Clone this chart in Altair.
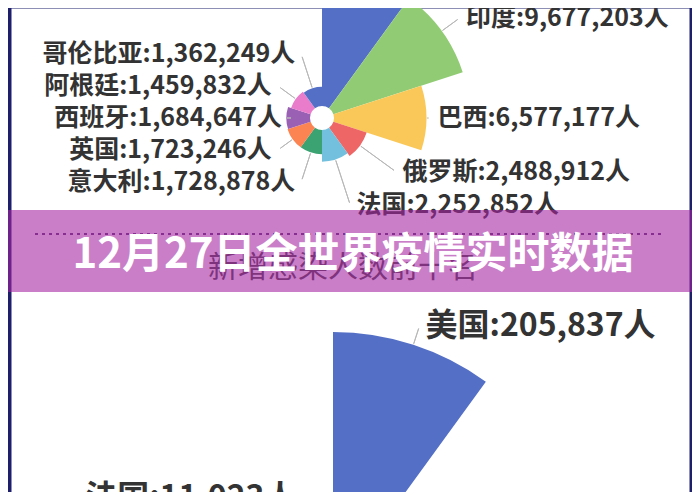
import altair as alt
import pandas as pd

# ---------------- data ----------------
title_text = "12月27日全世界疫情实时数据"
subtitle_text = "新增感染人数前十名"

top_countries = ["美国", "印度", "巴西", "俄罗斯", "法国", "意大利", "英国", "西班牙", "阿根廷", "哥伦比亚"]
top_cases = [19300000, 9677203, 6577177, 2488912, 2252852, 1728878, 1723246, 1684647, 1459832, 1362249]
top_rank = [1, 2, 3, 4, 5, 6, 7, 8, 9, 10]

new_countries = ["美国", "法国"]
new_cases = [205837, 11023]
new_rank = [1, 10]

palette = ["#5470c6", "#91cc75", "#fac858", "#ee6666", "#73c0de",
           "#3ba272", "#fc8452", "#9a60b4", "#ea7ccc", "#5470c6"]

SLOTS = 10
FONT = "Noto Sans CJK SC"
HOLE = 12

theta_scale = alt.Scale(domain=[0, SLOTS], range=[0, 6.283185307])
color_scale = alt.Scale(domain=list(range(1, SLOTS + 1)), range=palette)


def rose(countries, cases, ranks, cx, cy, dom, rmax, font_size,
         right_gap, right_tilt, right_min, left_base, left_tilt):
    """Nightingale rose (equal angles, radius by value) with ECharts-like outside labels."""
    df = pd.DataFrame({"country": countries, "cases": cases, "rank": ranks})
    ppu = (rmax - HOLE) / dom  # pixels per data unit of the radius scale
    r_scale = alt.Scale(type="linear", domain=[0, dom], range=[HOLE, rmax], nice=False, zero=True)
    cosabs = f"abs(cos(datum.mid / {SLOTS} * 2 * PI))"
    right_px = f"max({HOLE} + {ppu} * datum.cases + {right_gap} + {right_tilt} * {cosabs}, {right_min})"
    left_px = f"{left_base} + {left_tilt} * {cosabs}"
    base = alt.Chart(df).transform_calculate(
        start="datum.rank - 1",
        end="datum.rank",
        mid="datum.rank - 0.5",
        mid2="datum.rank - 0.4995",
        label="datum.country + ':' + format(datum.cases, ',') + '人'",
    ).transform_calculate(
        labelpx=f"datum.mid < {SLOTS / 2} ? {right_px} : {left_px}",
    ).transform_calculate(
        labelr=f"(datum.labelpx - {HOLE}) / {ppu}",
    ).transform_calculate(
        linestart="min(datum.cases, datum.labelr)",
    )
    arcs = base.mark_arc(clip=True).encode(
        theta=alt.Theta("start:Q", scale=theta_scale, stack=False),
        theta2="end:Q",
        radius=alt.Radius("cases:Q", scale=r_scale),
        radius2=alt.value(HOLE),
        color=alt.Color("rank:O", scale=color_scale, legend=None),
        x=alt.value(cx), y=alt.value(cy),
    )
    lines = base.mark_arc(filled=False, stroke="#b8b8b8", strokeWidth=1,
                          radiusOffset=-3, radius2Offset=1, clip=True).encode(
        theta=alt.Theta("mid:Q", scale=theta_scale, stack=False),
        theta2="mid2:Q",
        radius=alt.Radius("labelr:Q", scale=r_scale),
        radius2="linestart:Q",
        x=alt.value(cx), y=alt.value(cy),
    )
    txt_common = dict(baseline="middle", font=FONT, fontSize=font_size, fontWeight="bold",
                      color="#333333")
    right = base.transform_filter(f"datum.mid < {SLOTS / 2}").mark_text(
        align="left", dx=6, **txt_common).encode(
        theta=alt.Theta("mid:Q", scale=theta_scale, stack=False),
        radius=alt.Radius("labelr:Q", scale=r_scale),
        text="label:N",
        x=alt.value(cx), y=alt.value(cy),
    )
    left = base.transform_filter(f"datum.mid > {SLOTS / 2}").mark_text(
        align="right", dx=-6, **txt_common).encode(
        theta=alt.Theta("mid:Q", scale=theta_scale, stack=False),
        radius=alt.Radius("labelr:Q", scale=r_scale),
        text="label:N",
        x=alt.value(cx), y=alt.value(cy),
    )
    return alt.layer(arcs, lines, right, left)


top = rose(top_countries, top_cases, top_rank, 311, 110,
           dom=10000000, rmax=152.5, font_size=25,
           right_gap=5, right_tilt=30, right_min=92, left_base=34, left_tilt=35)
bottom = rose(new_countries, new_cases, new_rank, 322, 584,
              dom=200000, rmax=253, font_size=32,
              right_gap=20, right_tilt=0, right_min=0, left_base=99, left_tilt=0)

one = pd.DataFrame({"t": [title_text]})
sub = alt.Chart(pd.DataFrame({"t": [subtitle_text]})).mark_text(
    font=FONT, fontSize=30, color="#4a4a4a", align="center", baseline="middle"
).encode(text="t:N", x=alt.value(332), y=alt.value(260))

dots = alt.Chart(one).mark_rule(color="#5a3f78", strokeWidth=2, strokeDash=[3, 4]).encode(
    x=alt.value(24), x2=alt.value(651), y=alt.value(226))

banner = alt.Chart(one).mark_rect(color="#a523a2", opacity=0.59).encode(
    x=alt.value(-3), x2=alt.value(681), y=alt.value(202), y2=alt.value(284))

title = alt.Chart(one).mark_text(
    font=FONT, fontSize=42, fontWeight="bold", color="white", align="center", baseline="middle"
).encode(text="t:N", x=alt.value(342), y=alt.value(247))

chart = alt.layer(top, sub, dots, banner, title, bottom).resolve_scale(
    radius="independent"
).properties(
    width=678, height=484,
    autosize=alt.AutoSizeParams(type="none"),
    padding={"left": 3, "right": 3, "top": 0, "bottom": 0},
    background="#1d1f6b",
).configure_view(fill="white", stroke="transparent")

chart.save("out.html", embed_options={"renderer": "svg", "actions": False})
